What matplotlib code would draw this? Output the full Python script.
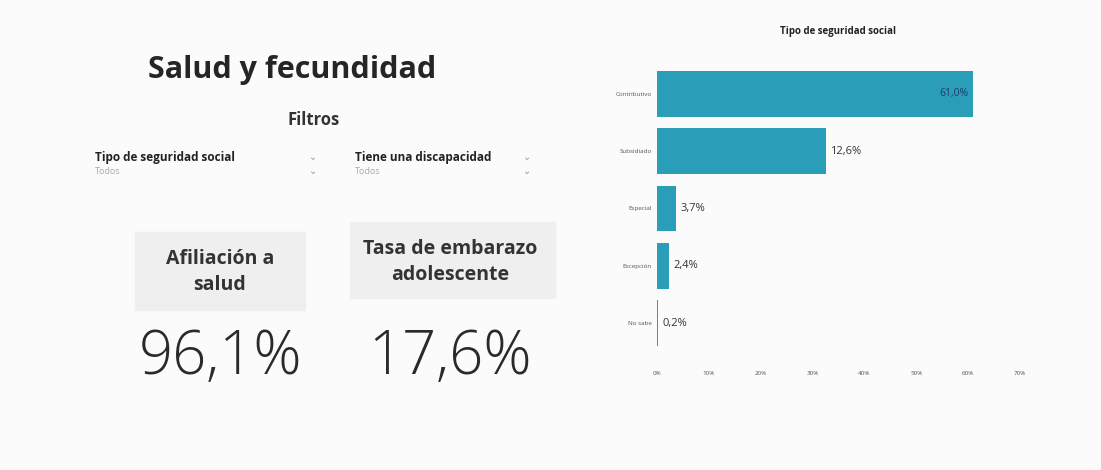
import matplotlib
matplotlib.use("Agg")
import matplotlib.pyplot as plt
import matplotlib.patches as mpatches

# Datos del panel
categorias = ["Contributivo", "Subsidiado", "Especial", "Excepción", "No sabe"]
porcentajes = [61.0, 32.6, 3.7, 2.4, 0.2]
etiquetas = ["61,0%", "12,6%", "3,7%", "2,4%", "0,2%"]
ticks_x = [0, 10, 20, 30, 40, 50, 60, 70]
kpi_titulos = ["Afiliación a\nsalud", "Tasa de embarazo\nadolescente"]
kpi_valores = ["96,1%", "17,6%"]
filtros = ["Tipo de seguridad social", "Tiene una discapacidad"]

plt.rcParams["font.family"] = ["Open Sans", "DejaVu Sans"]
W, H = 1101, 470
fig = plt.figure(figsize=(W / 100, H / 100), dpi=100)
fig.patch.set_facecolor("#fbfbfb")

def fx(px):
    return px / W

def fy(py):
    return 1 - py / H

# Titulo y filtros
fig.text(fx(292), fy(70), "Salud y fecundidad", ha="center", va="center",
         fontsize=22, fontweight="bold", color="#252525")
fig.text(fx(314), fy(120), "Filtros", ha="center", va="center",
         fontsize=12, fontweight="bold", color="#333333")
for x0, x1, nombre in [(95, 313, filtros[0]), (355, 527, filtros[1])]:
    fig.text(fx(x0), fy(157), nombre, ha="left", va="center",
             fontsize=8.5, fontweight="bold", color="#222222")
    fig.text(fx(x0), fy(172), "Todos", ha="left", va="center",
             fontsize=6.5, color="#aaaaaa")
    fig.text(fx(x1), fy(157), "⌄", ha="center", va="center", fontsize=7, color="#999999")
    fig.text(fx(x1), fy(172), "⌄", ha="center", va="center", fontsize=7, color="#999999")

# Tarjetas KPI
for (cx, ty, x0, x1, y0, y1), titulo, valor in zip(
        [(220, 272, 135, 305, 232, 310), (450, 262, 350, 555, 222, 298)],
        kpi_titulos, kpi_valores):
    fig.patches.append(mpatches.Rectangle((fx(x0), fy(y1)), fx(x1 - x0), (y1 - y0) / H,
                                          transform=fig.transFigure, color="#efefef", zorder=0))
    fig.text(fx(cx), fy(ty), titulo, ha="center", va="center", fontsize=14,
             fontweight="bold", color="#333333", linespacing=1.35)
    fig.text(fx(cx), fy(358), valor, ha="center", va="center", fontsize=43,
             fontweight="light", color="#2a2a2a")

# Grafico de barras
ax = fig.add_axes([fx(657), fy(352), fx(1020 - 657), (352 - 65) / H])
ax.set_facecolor("#fbfbfb")
y = list(range(len(categorias)))
ax.barh(y, porcentajes, height=0.8, color="#2a9db8")
ax.set_xlim(0, 70)
ax.set_ylim(len(categorias) - 0.5, -0.5)
ax.set_yticks(y)
ax.set_yticklabels(categorias, fontsize=4.5, color="#555555")
ax.set_xticks(ticks_x)
ax.set_xticklabels([f"{t}%" for t in ticks_x], fontsize=4.5, color="#555555")
ax.tick_params(length=0, pad=14, axis="x")
ax.tick_params(length=0, pad=4, axis="y")
for s in ax.spines.values():
    s.set_visible(False)
for i, (v, lab) in enumerate(zip(porcentajes, etiquetas)):
    if i == 0:
        ax.text(v - 1, i, lab, ha="right", va="center", fontsize=7.5, color="#1d3d6b")
    else:
        ax.text(v + 0.8, i, lab, ha="left", va="center", fontsize=8, color="#333333")
ax.set_title("Tipo de seguridad social", fontsize=7, fontweight="bold",
             color="#222222", pad=22)

fig.savefig("out.png", dpi=100, facecolor=fig.get_facecolor())
